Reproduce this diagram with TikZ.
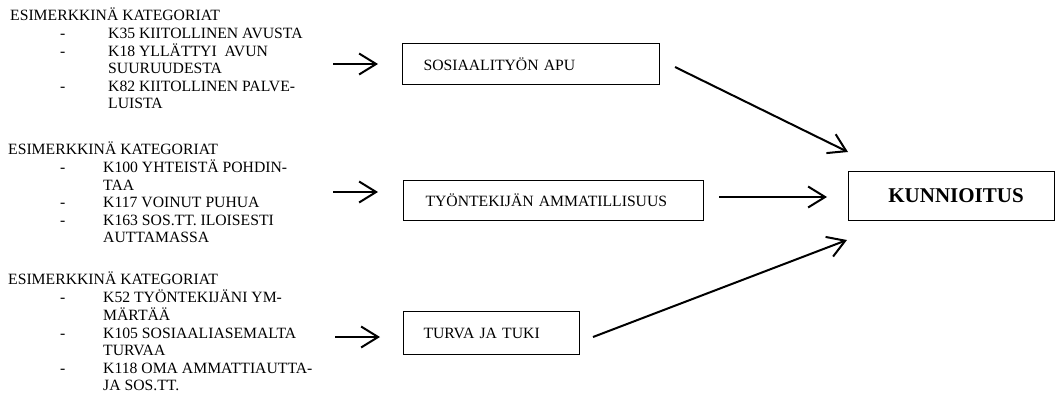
\documentclass[tikz,border=0pt]{standalone}
\usepackage{fontspec}
\setmainfont{Liberation Serif}
\usetikzlibrary{arrows.meta}
\begin{document}
\begin{tikzpicture}[x=1pt,y=-1pt,
  every node/.style={font=\fontsize{15.7}{17.5}\selectfont},
  catlist/.style={anchor=north west, inner sep=0pt},
  box/.style={draw, line width=1.1pt, anchor=north west, align=left, inner ysep=0pt},
  mainbox/.style={draw, line width=1.1pt, anchor=north west, align=center, inner sep=0pt,
    font=\fontsize{21}{24}\selectfont\bfseries},
  conn/.style={line width=2pt, -{Straight Barb[length=17pt,width=21pt]}}]
\useasboundingbox (0,0) rectangle (1055,397);

% category lists
\node[catlist] (g1) at (10,7.75) {\begin{tabular}{@{}p{50pt}@{}p{48pt}@{}l@{}}
\multicolumn{3}{@{}l@{}}{ESIMERKKINÄ KATEGORIAT}\\
& - & K35 KIITOLLINEN AVUSTA\\
& - & K18 YLLÄTTYI\ \ AVUN\\
& & SUURUUDESTA\\
& - & K82 KIITOLLINEN PALVE-\\
& & LUISTA
\end{tabular}};

\node[catlist] (g2) at (8,141.75) {\begin{tabular}{@{}p{52pt}@{}p{43pt}@{}l@{}}
\multicolumn{3}{@{}l@{}}{ESIMERKKINÄ KATEGORIAT}\\
& - & K100 YHTEISTÄ POHDIN-\\
& & TAA\\
& - & K117 VOINUT PUHUA\\
& - & K163 SOS.TT. ILOISESTI\\
& & AUTTAMASSA
\end{tabular}};

\node[catlist] (g3) at (8,271.75) {\begin{tabular}{@{}p{52pt}@{}p{43pt}@{}l@{}}
\multicolumn{3}{@{}l@{}}{ESIMERKKINÄ KATEGORIAT}\\
& - & K52 TYÖNTEKIJÄNI YM-\\
& & MÄRTÄÄ\\
& - & K105 SOSIAALIASEMALTA\\
& & TURVAA\\
& - & K118 OMA AMMATTIAUTTA-\\
& & JA SOS.TT.
\end{tabular}};

% boxes
\node[box, inner xsep=21pt, text width=215pt, minimum height=41pt] (b1) at (402,43) {SOSIAALITYÖN APU};
\node[box, inner xsep=22pt, text width=256pt, minimum height=40pt] (b2) at (403,180) {TYÖNTEKIJÄN AMMATILLISUUS};
\node[box, inner xsep=20pt, text width=136pt, minimum height=43pt] (b3) at (403,311) {TURVA JA TUKI\\[4pt]};
\node[mainbox, minimum width=206pt, minimum height=49pt] (k) at (848,171) {\hspace*{9pt}KUNNIOITUS};

% free arrow ends
\coordinate (l1s) at (333,64);  \coordinate (l1e) at (378,64);
\coordinate (l2s) at (333,192); \coordinate (l2e) at (378,192);
\coordinate (l3s) at (335,337); \coordinate (l3e) at (380,337);
\coordinate (r1s) at (675,67);  \coordinate (r1e) at (848,152);
\coordinate (r2s) at (719,197); \coordinate (r2e) at (827,197);
\coordinate (r3s) at (593,337); \coordinate (r3e) at (847,240);

\draw[conn] (l1s) -- (l1e);
\draw[conn] (l2s) -- (l2e);
\draw[conn] (l3s) -- (l3e);
\draw[conn] (r1s) -- (r1e);
\draw[conn] (r2s) -- (r2e);
\draw[conn] (r3s) -- (r3e);
\end{tikzpicture}
\end{document}
